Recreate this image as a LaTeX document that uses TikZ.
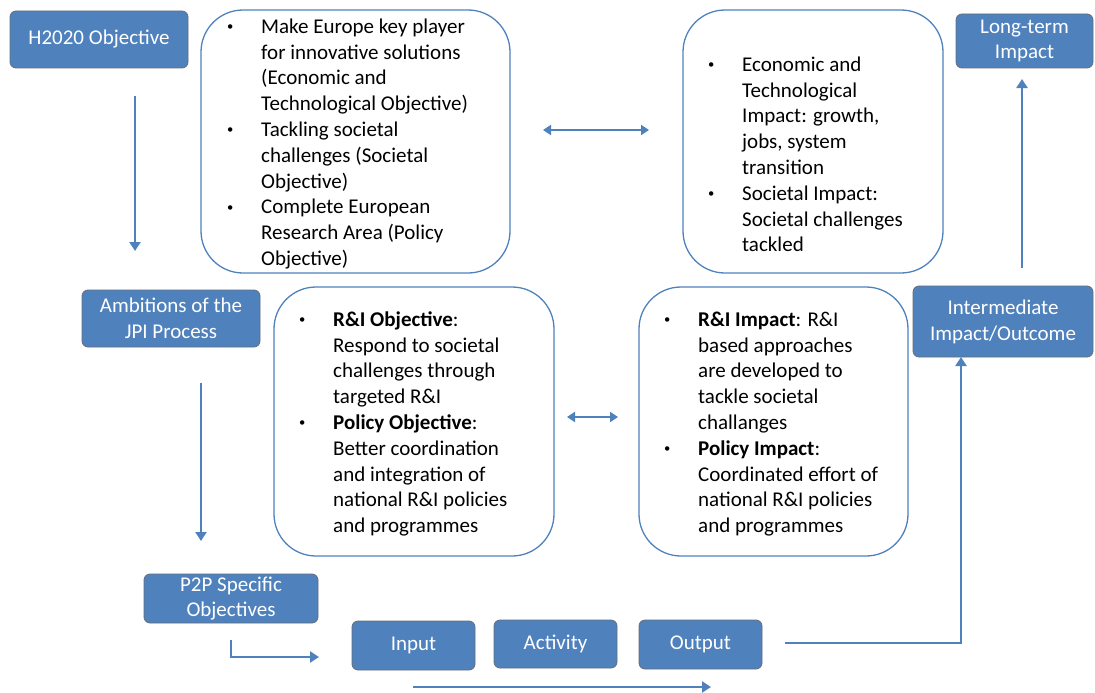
\documentclass[tikz,border=0pt]{standalone}
\usepackage{fontspec}
\setmainfont{Carlito}
\usepackage{graphicx}
\usepackage{tikz}
\usetikzlibrary{arrows.meta}

\definecolor{jpiblue}{RGB}{79,129,189}
\definecolor{jpiedge}{RGB}{100,110,125}

\newcommand{\bl}{\makebox[0pt]{\raisebox{2.5pt}{\scalebox{0.6}{\textbullet}}}}
\newenvironment{blist}{\begin{tabular}{@{}p{31pt}@{}l@{}}}{\end{tabular}}

\begin{document}
\begin{tikzpicture}[x=1pt,y=-1pt,
    font=\fontsize{21}{25.8}\selectfont,
    stage/.style={draw=jpiedge,line width=0.8pt,fill=jpiblue,text=white,
      rounded corners=6pt,align=center,inner sep=0pt},
    frame/.style={draw=jpiblue,line width=1.3pt,rounded corners=42pt,inner sep=0pt},
    items/.style={anchor=north west,inner sep=0pt},
    flow/.style={draw=jpiblue,line width=2.8pt,-{Triangle[width=11pt,length=9pt]}},
    link/.style={draw=jpiblue,line width=2.8pt,
      {Triangle[width=10pt,length=8pt]}-{Triangle[width=10pt,length=8pt]}}]
    \useasboundingbox (0,0) rectangle (1095,693);

    % left column
    \node[stage,minimum width=178pt,minimum height=57pt](h2020) at (99,39.5) {H2020 Objective};
    \node[stage,minimum width=178pt,minimum height=57pt](ambition) at (171,318.5) {Ambitions of the\\JPI Process};
    \node[stage,minimum width=174pt,minimum height=49pt](ptwop) at (231,598.5) {P2P Specific\\Objectives};

    % bottom row
    \node[stage,minimum width=123pt,minimum height=49pt](input) at (413.5,645.5) {Input};
    \node[stage,minimum width=123pt,minimum height=48pt](activity) at (555.5,644) {Activity};
    \node[stage,minimum width=123pt,minimum height=49pt](output) at (700.5,644.5) {Output};

    % right column
    \node[stage,minimum width=137pt,minimum height=54pt](longterm) at (1024.5,41) {Long-term\\Impact};
    \node[stage,minimum width=180pt,minimum height=71pt](intermed) at (1003,321.5) {Intermediate\\Impact/Outcome};

    % objective and impact frames
    \node[frame,minimum width=309pt,minimum height=263pt](objtop) at (355.5,141.5) {};
    \node[frame,minimum width=260pt,minimum height=263pt](imptop) at (813,141.5) {};
    \node[frame,minimum width=280pt,minimum height=269pt](objmid) at (414,421.5) {};
    \node[frame,minimum width=269pt,minimum height=269pt](impmid) at (773.5,421.5) {};

    \node[items](objtoplist) at (230,15) {\begin{blist}
      \bl & Make Europe key player\\
          & for innovative solutions\\
          & (Economic and\\
          & Technological Objective)\\
      \bl & Tackling societal\\
          & challenges (Societal\\
          & Objective)\\
      \bl & Complete European\\
          & Research Area (Policy\\
          & Objective)
    \end{blist}};
    \node[items](imptoplist) at (711,53) {\begin{blist}
      \bl & Economic and\\
          & Technological\\
          & Impact: growth,\\
          & jobs, system\\
          & transition\\
      \bl & Societal Impact:\\
          & Societal challenges\\
          & tackled
    \end{blist}};
    \node[items](objmidlist) at (302,308) {\begin{blist}
      \bl & \textbf{R\&I Objective}:\\
          & Respond to societal\\
          & challenges through\\
          & targeted R\&I\\
      \bl & \textbf{Policy Objective}:\\
          & Better coordination\\
          & and integration of\\
          & national R\&I policies\\
          & and programmes
    \end{blist}};
    \node[items](impmidlist) at (667,308) {\begin{blist}
      \bl & \textbf{R\&I Impact}: R\&I\\
          & based approaches\\
          & are developed to\\
          & tackle societal\\
          & challanges\\
      \bl & \textbf{Policy Impact}:\\
          & Coordinated effort of\\
          & national R\&I policies\\
          & and programmes
    \end{blist}};

    % arrow ends
    \coordinate(d1) at (135,96);
    \coordinate(d2) at (135,251);
    \coordinate(d3) at (201,383);
    \coordinate(d4) at (201,541);
    \coordinate(e1) at (231,640);
    \coordinate(e2) at (319,657);
    \coordinate(r1) at (413,687);
    \coordinate(r2) at (711,687);
    \coordinate(o1) at (785,643);
    \coordinate(o2) at (961,357);
    \coordinate(u1) at (1022,268);
    \coordinate(u2) at (1022,79);
    \coordinate(t1) at (543,130);
    \coordinate(t2) at (649,130);
    \coordinate(m1) at (567,417);
    \coordinate(m2) at (618,417);

    \draw[flow] (d1) -- (d2);
    \draw[flow] (d3) -- (d4);
    \draw[flow] (e1) |- (e2);
    \draw[flow] (r1) -- (r2);
    \draw[flow] (o1) -| (o2);
    \draw[flow] (u1) -- (u2);
    \draw[link] (t1) -- (t2);
    \draw[link] (m1) -- (m2);
\end{tikzpicture}
\end{document}
